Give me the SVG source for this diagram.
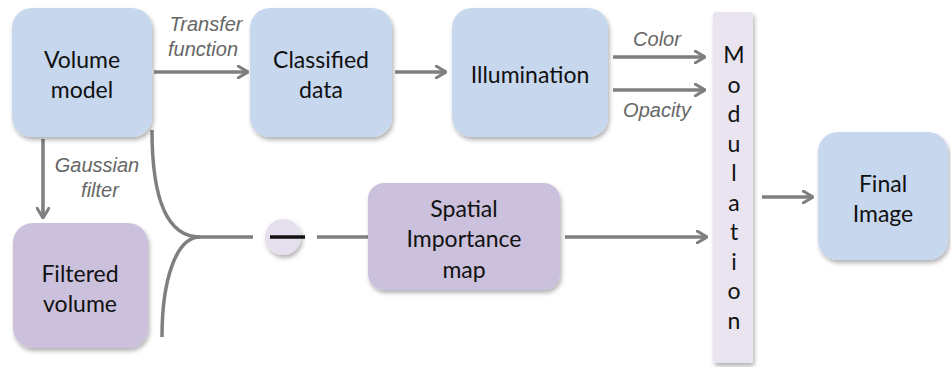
<svg xmlns="http://www.w3.org/2000/svg" width="951" height="367" viewBox="0 0 951 367">
<defs>
<filter id="sh" x="-20%" y="-20%" width="140%" height="140%">
<feDropShadow dx="1.5" dy="3" stdDeviation="2.2" flood-color="#000" flood-opacity="0.3"/>
</filter>
<marker id="ah" viewBox="0 0 12 14" refX="11" refY="7" markerWidth="12" markerHeight="14" markerUnits="userSpaceOnUse" orient="auto">
<path d="M1,1 L11,7 L1,13" fill="none" stroke="#7f7f7f" stroke-width="3" stroke-linejoin="miter" stroke-linecap="round"/>
</marker>
<style>
.blue{fill:#c6d7ee;filter:url(#sh)}
.purple{fill:#cbc1dc;filter:url(#sh)}
.mod{fill:#e9e4f0;filter:url(#sh)}
.t{font-family:Lato,"Liberation Sans",sans-serif;font-size:23px;fill:#111;text-anchor:middle}
.lbl{font-family:"Liberation Sans",Arial,sans-serif;font-style:italic;font-size:20px;fill:#666;text-anchor:middle}
.c{fill:none;stroke:#7f7f7f;stroke-width:3.5}
.a{fill:none;stroke:#7f7f7f;stroke-width:3.5;marker-end:url(#ah)}
</style>
</defs>
<rect width="951" height="367" fill="#fff"/>

<g id="connectors">
<line class="a" x1="154" y1="72" x2="248" y2="72"/>
<line class="a" x1="395" y1="72" x2="446" y2="72"/>
<line class="a" x1="613" y1="57" x2="705" y2="57"/>
<line class="a" x1="613" y1="90" x2="705" y2="90"/>
<line class="a" x1="43" y1="139" x2="43" y2="218"/>
<path class="c" d="M152,130 C152,200 168,237 200,237 L253,237"/>
<path class="c" d="M200,237 C176,237 162,280 162,337"/>
<line class="c" x1="317" y1="237" x2="370" y2="237"/>
<line class="a" x1="565" y1="237" x2="707" y2="237"/>
<line class="a" x1="762" y1="197" x2="813" y2="197"/>
<text class="lbl" x="206" y="31">Transfer</text>
<text class="lbl" x="203" y="56">function</text>
<text class="lbl" x="657" y="46">Color</text>
<text class="lbl" x="657" y="117">Opacity</text>
<text class="lbl" x="97" y="172">Gaussian</text>
<text class="lbl" x="100" y="197">filter</text>
</g>

<g id="volume-model">
<rect class="blue" x="12" y="8" width="140" height="129" rx="20"/>
<text class="t" x="82" y="68">Volume</text>
<text class="t" x="82" y="98">model</text>
</g>

<g id="classified-data">
<rect class="blue" x="250" y="8" width="142" height="129" rx="20"/>
<text class="t" x="321" y="68">Classified</text>
<text class="t" x="321" y="98">data</text>
</g>

<g id="illumination">
<rect class="blue" x="452" y="8" width="156" height="129" rx="20"/>
<text class="t" x="530" y="83">Illumination</text>
</g>

<g id="modulation">
<rect class="mod" x="713" y="12" width="40" height="351" rx="3"/>
<text class="t" x="734" y="63">M</text>
<text class="t" x="734" y="92.5">o</text>
<text class="t" x="734" y="122">d</text>
<text class="t" x="734" y="151.5">u</text>
<text class="t" x="734" y="181">l</text>
<text class="t" x="734" y="210.5">a</text>
<text class="t" x="734" y="240">t</text>
<text class="t" x="734" y="269.5">i</text>
<text class="t" x="734" y="299">o</text>
<text class="t" x="734" y="328.5">n</text>
</g>

<g id="final-image">
<rect class="blue" x="818" y="132" width="130" height="128" rx="20"/>
<text class="t" x="883" y="192">Final</text>
<text class="t" x="883" y="222">Image</text>
</g>

<g id="filtered-volume">
<rect class="purple" x="13" y="223" width="135" height="125" rx="20"/>
<text class="t" x="80" y="282">Filtered</text>
<text class="t" x="80" y="312">volume</text>
</g>

<g id="minus">
<circle cx="283" cy="237" r="18" fill="#e6e0ee" filter="url(#sh)"/>
<line x1="270" y1="237" x2="305" y2="237" stroke="#111" stroke-width="3.5"/>
</g>

<g id="spatial-importance-map">
<rect class="purple" x="368" y="183" width="192" height="107" rx="16"/>
<text class="t" x="464" y="217">Spatial</text>
<text class="t" x="464" y="247">Importance</text>
<text class="t" x="464" y="278">map</text>
</g>
</svg>
